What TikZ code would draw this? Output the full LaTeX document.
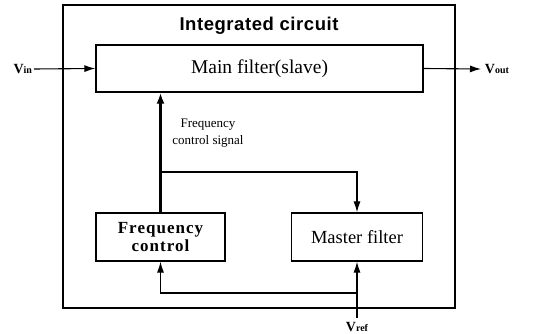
\documentclass[tikz,border=0pt]{standalone}
\usepackage{fontspec}
\setmainfont{Liberation Serif}
\setsansfont{Liberation Sans}
\usetikzlibrary{arrows.meta}

\tikzset{
  block/.style={draw, line width=1.3pt, inner sep=0pt, align=center},
  conn/.style={line width=1.1pt, -{Latex[length=11pt,width=7pt]}},
  mainconn/.style={line width=2.4pt, -{Latex[length=11pt,width=8pt]}},
  vlabel/.style={inner sep=0.75pt, font=\fontsize{14}{16}\selectfont\bfseries}
}

\begin{document}
\begin{tikzpicture}[x=1pt,y=1pt,yscale=-1,xscale=1]
\useasboundingbox (0,0) rectangle (536,334);

% Boxes
\node [block, minimum width=392, minimum height=303] (ic) at (259,156.5) {};
\node [block, minimum width=327, minimum height=47, font=\fontsize{19.5}{22}\selectfont] (main) at (259.5,68.5) {Main filter(slave)};
\node [block, minimum width=129, minimum height=48, font=\fontsize{17}{20}\selectfont\bfseries] (fc) at (160.5,237) {\addfontfeature{LetterSpace=6}Frequency\\[-2pt]\addfontfeature{LetterSpace=6}control};
\node [block, minimum width=131, minimum height=48, font=\fontsize{18.5}{22}\selectfont] (mf) at (357,237) {Master filter};

% Text Node
\node [inner sep=0.75pt, font=\fontsize{18.5}{20}\selectfont\sffamily\bfseries] (title) at (259,26) {\addfontfeature{LetterSpace=3}Integrated circuit};
% Text Node
\node [inner sep=0.75pt, align=center, font=\fontsize{13}{17}\selectfont] (sig) at (208,133) {Frequency\\control signal};
% Text Node
\node [vlabel, anchor=east] (vin) at (33,69) {V{\fontsize{10}{11}\selectfont in}};
% Text Node
\node [vlabel, anchor=west] (vout) at (484,69) {V{\fontsize{10}{11}\selectfont out}};
% Text Node
\node [vlabel] (vref) at (357,327) {V{\fontsize{10}{11}\selectfont ref}};

% Ends of connectors
\coordinate (vinS) at (34,69);
\coordinate (voutE) at (481,69);
\coordinate (brA) at (160.5,172);
\coordinate (vrefS) at (357,318);
\coordinate (brB) at (357,293);

% Connectors
\draw [conn] (vinS) -- (main.west);
\draw [conn] (main.east) -- (voutE);
\draw [mainconn] (fc.north) -- (fc.north |- main.south);
\draw [conn] (brA) -| (mf.north);
\draw [conn] (vrefS) -- (mf.south);
\draw [conn] (brB) -| (fc.south);

\end{tikzpicture}
\end{document}
